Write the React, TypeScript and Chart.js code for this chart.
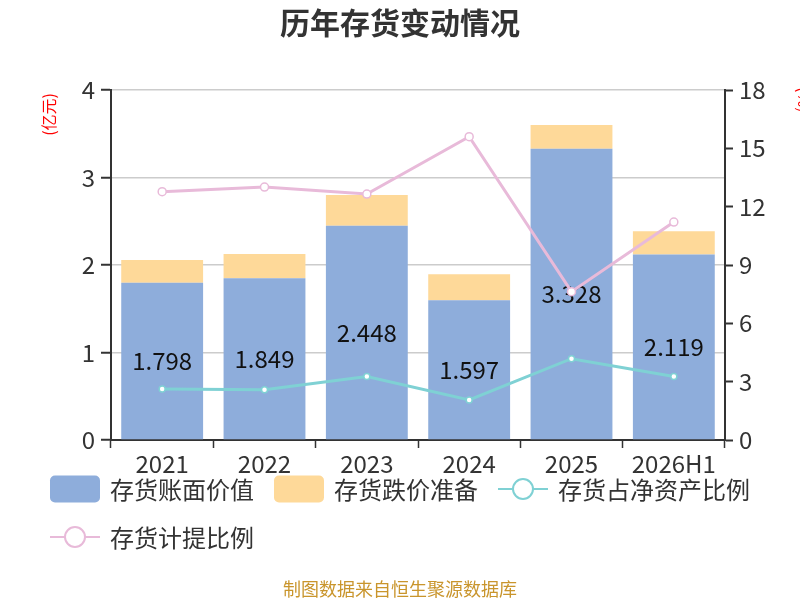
import { useEffect, useRef } from "react";
import { Chart, registerables } from "chart.js";

Chart.register(...registerables);

const categories = ["2021", "2022", "2023", "2024", "2025", "2026H1"];
// 亿元
const bookValue = [1.798, 1.849, 2.448, 1.597, 3.328, 2.119];
const impairment = [0.259, 0.277, 0.352, 0.296, 0.272, 0.266];
// %
const netAssetRatio = [2.62, 2.59, 3.27, 2.06, 4.18, 3.27];
const provisionRatio = [12.77, 13.01, 12.65, 15.6, 7.63, 11.21];

const FONT = "'Noto Sans CJK SC', 'Noto Sans', sans-serif";
const TEXT = "#333";

const extras = {
  id: "extras",
  afterDatasetDraw(chart: any, args: any) {
    // values on the book value bars, drawn before the lines go on top
    if (args.index !== 0) return;
    const ctx = chart.ctx;
    ctx.save();
    ctx.font = `24px ${FONT}`;
    ctx.fillStyle = "#111";
    ctx.textAlign = "center";
    ctx.textBaseline = "middle";
    args.meta.data.forEach((bar: any, i: number) => {
      const { x, y, base } = bar.getProps(["x", "y", "base"], true);
      ctx.fillText(bookValue[i].toFixed(3), x, (y + base) / 2);
    });
    ctx.restore();
  },
  afterDraw(chart: any) {
    const ctx = chart.ctx;
    const top = chart.chartArea.top;
    ctx.save();

    // axis names
    ctx.fillStyle = "#ff0000";
    ctx.font = `16px ${FONT}`;
    ctx.textBaseline = "middle";
    ctx.save();
    ctx.translate(49, top + 3);
    ctx.rotate(-Math.PI / 2);
    ctx.textAlign = "right";
    ctx.fillText("(亿元)", 0, 0);
    ctx.restore();
    ctx.save();
    ctx.translate(chart.width + 4, top - 3);
    ctx.rotate(Math.PI / 2);
    ctx.textAlign = "left";
    ctx.fillText("(%)", 0, 0);
    ctx.restore();

    // legend
    ctx.font = `24px ${FONT}`;
    ctx.textAlign = "left";
    let x = 50;
    let y = 489;
    chart.data.datasets.forEach((ds: any) => {
      const w = 60 + ctx.measureText(ds.label).width;
      if (x > 50 && x + w > chart.width - 40) {
        x = 50;
        y += 48;
      }
      if (ds.type === "line") {
        ctx.strokeStyle = ds.borderColor;
        ctx.lineWidth = 2;
        ctx.beginPath();
        ctx.moveTo(x, y);
        ctx.lineTo(x + 50, y);
        ctx.stroke();
        ctx.beginPath();
        ctx.arc(x + 25, y, 10, 0, Math.PI * 2);
        ctx.fillStyle = "#fff";
        ctx.fill();
        ctx.stroke();
      } else {
        ctx.fillStyle = ds.backgroundColor;
        ctx.beginPath();
        ctx.roundRect(x, y - 13.5, 50, 27, 5);
        ctx.fill();
      }
      ctx.fillStyle = TEXT;
      ctx.fillText(ds.label, x + 60, y + 1);
      x += w + 20;
    });

    // source note
    ctx.font = `18px ${FONT}`;
    ctx.fillStyle = "#c9952c";
    ctx.textAlign = "center";
    ctx.fillText("制图数据来自恒生聚源数据库", chart.width / 2, 589);
    ctx.restore();
  },
};

export default function App() {
  const canvasRef = useRef<HTMLCanvasElement | null>(null);
  const chartRef = useRef<Chart | null>(null);

  useEffect(() => {
    document.body.style.margin = "0";
    const canvas = canvasRef.current;
    if (!canvas) return;

    chartRef.current?.destroy();

    const tickFont = { size: 24, family: FONT };

    chartRef.current = new Chart(canvas, {
      type: "bar",
      data: {
        labels: categories,
        datasets: [
          {
            type: "bar",
            label: "存货账面价值",
            data: bookValue,
            backgroundColor: "#8eaddb",
            yAxisID: "y",
            order: 2,
            categoryPercentage: 0.8,
            barPercentage: 1,
          },
          {
            type: "bar",
            label: "存货跌价准备",
            data: impairment,
            backgroundColor: "#fed999",
            yAxisID: "y",
            order: 2,
            categoryPercentage: 0.8,
            barPercentage: 1,
          },
          {
            type: "line",
            label: "存货占净资产比例",
            data: netAssetRatio,
            borderColor: "#7fd1d4",
            borderWidth: 3,
            pointRadius: 3,
            pointBorderWidth: 1.5,
            pointBackgroundColor: "#fff",
            pointBorderColor: "#7fd1d4",
            yAxisID: "y1",
            order: 1,
          },
          {
            type: "line",
            label: "存货计提比例",
            data: provisionRatio,
            borderColor: "#e8bad9",
            borderWidth: 3,
            pointRadius: 4,
            pointBorderWidth: 1.5,
            pointBackgroundColor: "#fff",
            pointBorderColor: "#e8bad9",
            yAxisID: "y1",
            order: 1,
          },
        ] as any,
      },
      options: {
        responsive: true,
        maintainAspectRatio: false,
        animation: false,
        layout: { padding: { top: 0, left: 0, right: 0, bottom: 120 } },
        plugins: {
          legend: { display: false },
          tooltip: { enabled: false },
          title: {
            display: true,
            text: "历年存货变动情况",
            color: TEXT,
            font: { size: 30, weight: "bold", family: FONT },
            padding: { top: 5, bottom: 49 },
          },
        },
        scales: {
          x: {
            stacked: true,
            afterFit: (scale: any) => {
              scale.height = 40;
            },
            grid: {
              drawOnChartArea: false,
              tickLength: 8,
              tickColor: TEXT,
              tickWidth: 1.5,
            },
            border: { color: TEXT, width: 2 },
            ticks: {
              color: TEXT,
              font: tickFont,
              padding: 1,
              maxRotation: 0,
              autoSkip: false,
            },
          },
          y: {
            stacked: true,
            position: "left",
            min: 0,
            max: 4,
            afterFit: (scale: any) => {
              scale.width = 111;
            },
            grid: {
              color: "#cccccc",
              lineWidth: 1.5,
              tickLength: 10,
              tickColor: TEXT,
              tickWidth: 2,
            },
            border: { color: TEXT, width: 2 },
            ticks: {
              stepSize: 1,
              color: TEXT,
              font: tickFont,
              padding: 6,
            },
          },
          y1: {
            position: "right",
            min: 0,
            max: 18,
            afterFit: (scale: any) => {
              scale.width = 75;
            },
            grid: {
              drawOnChartArea: false,
              tickLength: 8,
              tickColor: TEXT,
              tickWidth: 2,
            },
            border: { color: TEXT, width: 2 },
            ticks: {
              stepSize: 3,
              color: TEXT,
              font: tickFont,
              padding: 6,
            },
          },
        },
      },
      plugins: [extras],
    });

    return () => {
      chartRef.current?.destroy();
    };
  }, []);

  return (
    <div style={{ width: 800, height: 600, position: "relative" }}>
      <canvas ref={canvasRef} />
    </div>
  );
}
